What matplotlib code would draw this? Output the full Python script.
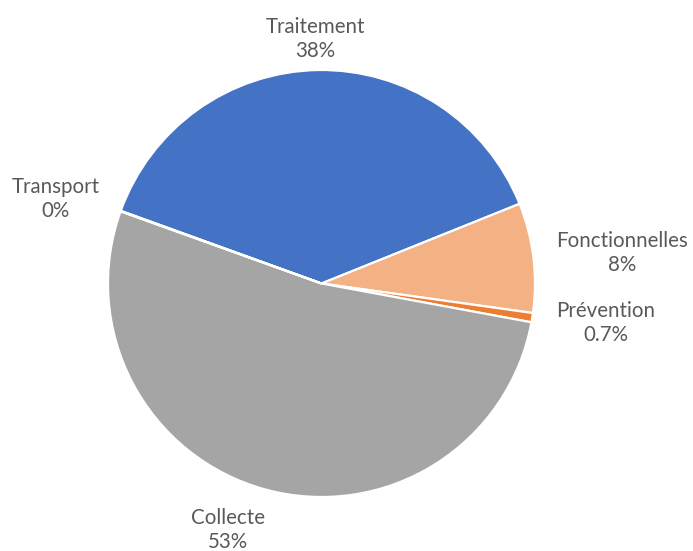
import matplotlib.pyplot as plt

# data (clockwise from the Transport/Traitement edge)
categories = ['Traitement', 'Fonctionnelles', 'Prévention', 'Collecte', 'Transport']
shares = [38.4, 8.3, 0.7, 52.6, 0.04]
pct_labels = ['38%', '8%', '0.7%', '53%', '0%']

colors = ['#4472C4', '#F4B183', '#ED7D31', '#A5A5A5', '#FFC000']

W, H = 693, 551
fig = plt.figure(figsize=(W / 100, H / 100), dpi=100)
ax = fig.add_axes([0, 0, 1, 1])

cx, cy, r = 321.5, H - 283.5, 213.5
ax.pie(shares, colors=colors, startangle=160.1, counterclock=False,
       center=(cx, cy), radius=r, frame=True,
       wedgeprops=dict(edgecolor='white', linewidth=1.6))
ax.set_xlim(0, W)
ax.set_ylim(0, H)
ax.set_aspect('equal')
ax.axis('off')

# label centres in pixels (x, y from top)
label_pos = {
    'Traitement': (315, 39),
    'Fonctionnelles': (622, 253),
    'Prévention': (606, 323),
    'Collecte': (228, 530),
    'Transport': (56, 199),
}
for cat, pct in zip(categories, pct_labels):
    x, y = label_pos[cat]
    ax.text(x, H - y, cat + '\n' + pct, ha='center', va='center',
            fontsize=14.8, family='Lato', color='#595959', linespacing=1.3)

fig.savefig('out.png', dpi=100)
